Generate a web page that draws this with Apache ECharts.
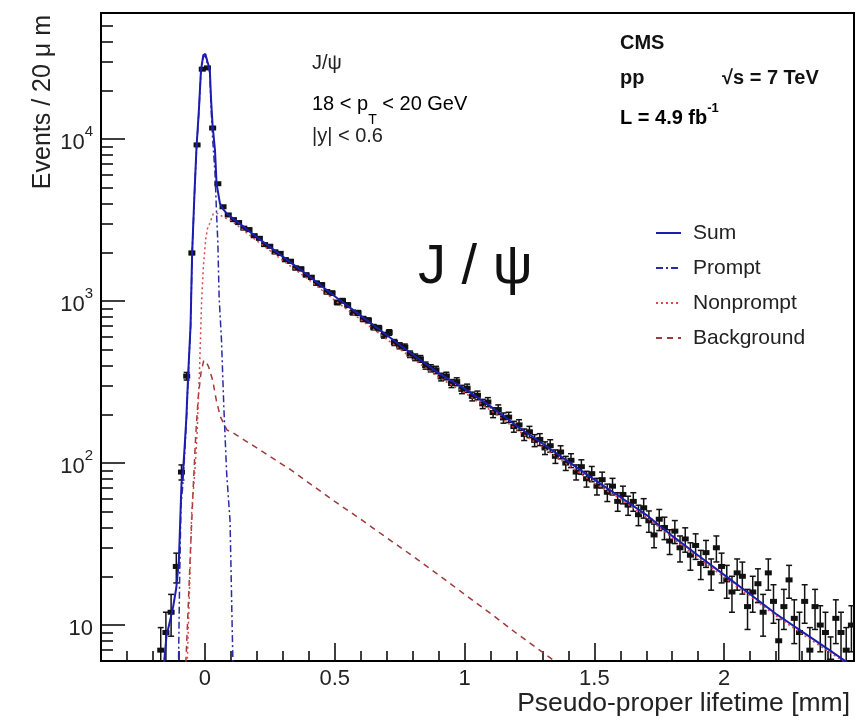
<!DOCTYPE html>
<html>
<head>
<meta charset="utf-8">
<script src="https://cdn.jsdelivr.net/npm/echarts@6/dist/echarts.min.js"></script>
<style>
html, body { margin: 0; background: #fff; }
#chart { width: 864px; height: 720px; }
</style>
</head>
<body>
<div id="chart"></div>
<script>
// data: bin centres (mm) and events per 20 um bin
const dataX = [
  -0.17, -0.15, -0.13, -0.11, -0.09, -0.07, -0.05, -0.03, -0.01, 0.01, 0.03, 0.05, 0.07, 0.09,
  0.11, 0.13, 0.15, 0.17, 0.19, 0.21, 0.23, 0.25, 0.27, 0.29,
  0.31, 0.33, 0.35, 0.37, 0.39, 0.41, 0.43, 0.45, 0.47, 0.49,
  0.51, 0.53, 0.55, 0.57, 0.59, 0.61, 0.63, 0.65, 0.67, 0.69,
  0.71, 0.73, 0.75, 0.77, 0.79, 0.81, 0.83, 0.85, 0.87, 0.89,
  0.91, 0.93, 0.95, 0.97, 0.99, 1.01, 1.03, 1.05, 1.07, 1.09,
  1.11, 1.13, 1.15, 1.17, 1.19, 1.21, 1.23, 1.25, 1.27, 1.29,
  1.31, 1.33, 1.35, 1.37, 1.39, 1.41, 1.43, 1.45, 1.47, 1.49,
  1.51, 1.53, 1.55, 1.57, 1.59, 1.61, 1.63, 1.65, 1.67, 1.69,
  1.71, 1.73, 1.75, 1.77, 1.79, 1.81, 1.83, 1.85, 1.87, 1.89,
  1.91, 1.93, 1.95, 1.97, 1.99, 2.01, 2.03, 2.05, 2.07, 2.09,
  2.11, 2.13, 2.15, 2.17, 2.19, 2.21, 2.23, 2.25, 2.27, 2.29,
  2.31, 2.33, 2.35, 2.37, 2.39, 2.41, 2.43, 2.45, 2.47, 2.49
]
const dataY = [
  7, 9, 12, 23, 88, 344, 1980, 9200, 27000, 27500, 11700, 5300, 3820, 3400,
  3180, 3050, 2820, 2760, 2530, 2440, 2230, 2180, 2010, 1970,
  1800, 1760, 1600, 1580, 1450, 1400, 1290, 1260, 1140, 1120,
  980, 1005, 945, 850, 845, 775, 760, 690, 680, 615,
  640, 555, 530, 520, 470, 450, 440, 400, 385, 376,
  340, 345, 310, 318, 285, 290, 258, 262, 232, 238,
  205, 214, 190, 192, 168, 172, 150, 156, 138, 140,
  124, 128, 110, 117, 100, 104, 88, 95, 80, 86,
  72, 79, 66, 72, 58, 64, 55, 58, 48, 53,
  44, 36, 45, 40, 33, 38, 30, 34, 27, 31,
  24, 28, 21, 30, 23, 19, 16, 21, 20, 13,
  16, 18, 12, 21, 14, 8, 13, 19, 11, 9,
  14, 7, 13, 10, 9, 6, 11, 9, 7, 10
]

// fit components
const sumX = [-0.16, -0.148, -0.135, -0.122, -0.11, -0.1, -0.09, -0.084, -0.078, -0.071, -0.064, -0.055, -0.049, -0.04, -0.032, -0.023, -0.015, -0.006, 0.002, 0.01, 0.019, 0.024, 0.03, 0.039, 0.045, 0.058, 0.07, 0.084, 0.1,
  0.2, 0.3, 0.4, 0.5, 0.6, 0.7, 0.8, 0.9, 1.0, 1.1, 1.2, 1.3, 1.4, 1.5, 1.6, 1.7, 1.8, 1.9, 2.0, 2.1, 2.2, 2.3, 2.4, 2.5]
const sumY = [5.2, 8.5, 10.5, 13, 17, 25, 75, 90, 125, 193, 360, 711, 1980, 4640, 9000, 15100, 26600, 33000, 33500, 30000, 27000, 17400, 12000, 8550, 5330, 4010, 3700, 3475, 3310,
  2480, 1880, 1430, 1070, 813, 617, 468, 359, 288, 224, 170, 132, 102, 79, 61.7, 47.9, 35.5, 26.9, 20.4, 15.5, 11.7, 9.1, 7.1, 5.5]

const promptX = [-0.102, -0.097, -0.092, -0.086, -0.078, -0.071, -0.064, -0.055, -0.049, -0.04, -0.032, -0.023, -0.015, -0.006, 0.002, 0.01, 0.019, 0.024, 0.03, 0.039, 0.045, 0.05, 0.055, 0.064, 0.073, 0.084, 0.097, 0.104, 0.109]
const promptY = [5, 20, 55, 70, 112, 185, 345, 690, 1930, 4550, 8800, 14700, 26000, 32200, 32500, 29000, 25500, 15500, 10000, 6200, 3500, 2300, 1050, 575, 223, 86, 44, 12, 5]

const nonpromptX = [-0.069, -0.064, -0.058, -0.051, -0.039, -0.03, -0.02, -0.013, -0.006, 0.003, 0.01, 0.019, 0.032, 0.045, 0.06, 0.08, 0.1,
  0.2, 0.3, 0.4, 0.5, 0.6, 0.7, 0.8, 0.9, 1.0, 1.1, 1.2, 1.3, 1.4, 1.5, 1.6, 1.7, 1.8, 1.9, 2.0, 2.1, 2.2, 2.3, 2.4, 2.5]
const nonpromptY = [5, 9.3, 19, 49, 87, 150, 400, 950, 1620, 2400, 2800, 3020, 3450, 3500, 3380, 3250, 3150,
  2355, 1782, 1354, 1012, 768, 582, 441, 339, 272, 212, 161, 125, 97, 75, 60, 46.5, 34.5, 26, 19.7, 15, 11.4, 8.8, 6.9, 5.4]

const bkgX = [-0.075, -0.065, -0.055, -0.045, -0.035, -0.025, -0.015, -0.005, 0.003, 0.015, 0.03, 0.045, 0.06, 0.085, 0.11, 0.2, 0.33, 0.4, 0.5, 0.6, 0.7, 0.8, 0.9, 1.0, 1.1, 1.2, 1.3, 1.4]
const bkgY = [5, 12, 30, 70, 150, 260, 360, 425, 430, 390, 325, 240, 193, 160, 153, 124, 91, 75.5, 58, 45, 34.6, 26.7, 20.4, 15.5, 11.8, 8.9, 6.8, 5.2]

// axis ticks
const majorX = [0, 0.5, 1, 1.5, 2]
const minorX = [-0.3, -0.2, -0.1, 0.1, 0.2, 0.3, 0.4, 0.6, 0.7, 0.8, 0.9, 1.1, 1.2, 1.3, 1.4,
  1.6, 1.7, 1.8, 1.9, 2.1, 2.2, 2.3, 2.4]
const majorY = [10, 100, 1000, 10000]
const minorY = [7, 8, 9, 20, 30, 40, 50, 60, 70, 80, 90, 200, 300, 400, 500, 600, 700, 800, 900,
  2000, 3000, 4000, 5000, 6000, 7000, 8000, 9000, 20000, 30000, 40000, 50000]

const FONT = '"Liberation Sans", Arial, Helvetica, sans-serif'
const zip = (xs, ys) => xs.map((x, i) => [x, ys[i]])

const chart = echarts.init(document.getElementById('chart'))

const option = {
  animation: false,
  backgroundColor: '#fff',
  textStyle: { fontFamily: FONT },
  grid: {
    left: 101, right: 10, top: 13, bottom: 59,
    show: true, borderColor: '#000', borderWidth: 2, backgroundColor: 'transparent'
  },
  legend: {
    data: ['Sum', 'Prompt', 'Nonprompt', 'Background'],
    orient: 'vertical',
    left: 655, top: 221, padding: 0,
    itemWidth: 25, itemHeight: 14, itemGap: 11,
    itemStyle: { opacity: 0 },
    textStyle: { fontSize: 21, lineHeight: 24, color: '#222', padding: [0, 0, 0, 7] },
  },
  xAxis: [{
    type: 'value', min: -0.4, max: 2.5,
    axisLine: { onZero: false, lineStyle: { color: '#000', width: 2 } },
    axisTick: { inside: true, length: 18, customValues: majorX, lineStyle: { color: '#000', width: 1.5 } },
    axisLabel: { customValues: majorX, fontSize: 22, color: '#222', margin: 7 },
    splitLine: { show: false },
  }, {
    type: 'value', min: -0.4, max: 2.5, position: 'bottom',
    axisLine: { show: false, onZero: false },
    axisTick: { inside: true, length: 10, customValues: minorX, lineStyle: { color: '#000', width: 1.5 } },
    axisLabel: { show: false },
    splitLine: { show: false },
  }],
  yAxis: [{
    type: 'log', logBase: 10, min: 6, max: 60000, position: 'left',
    axisLine: { show: true, onZero: false, lineStyle: { color: '#000', width: 2 } },
    axisTick: { inside: true, length: 24, customValues: majorY, lineStyle: { color: '#000', width: 1.5 } },
    axisLabel: {
      customValues: majorY,
      margin: 8,
      formatter: v => {
        const e = Math.round(Math.log10(v))
        return e === 1 ? '{b|10}' : '{b|10}{s|' + e + '}'
      },
      rich: {
        b: { fontSize: 22, color: '#222', lineHeight: 30, verticalAlign: 'bottom', fontFamily: FONT },
        s: { fontSize: 15, color: '#222', lineHeight: 15, verticalAlign: 'top', fontFamily: FONT },
      },
    },
    splitLine: { show: false },
  }, {
    type: 'log', logBase: 10, min: 6, max: 60000, position: 'left',
    axisLine: { show: false, onZero: false },
    axisTick: { inside: true, length: 12, customValues: minorY, lineStyle: { color: '#000', width: 1.5 } },
    axisLabel: { show: false },
    splitLine: { show: false },
  }],
  graphic: [
    { type: 'text', x: 43, y: 15, rotation: Math.PI / 2,
      style: { text: 'Events / 20 μ m', font: '25px ' + FONT, fill: '#222', textAlign: 'right', textVerticalAlign: 'middle' } },
    { type: 'text', x: 850, y: 704,
      style: { text: 'Pseudo-proper lifetime [mm]', font: '26.5px ' + FONT, fill: '#222', textAlign: 'right', textVerticalAlign: 'middle' } },
    { type: 'text', x: 312, y: 63,
      style: { text: 'J/ψ', font: '20px ' + FONT, fill: '#222', textVerticalAlign: 'middle' } },
    { type: 'text', x: 312, y: 94,
      style: {
        text: '{a|18 < p}{t|T}{a| < 20 GeV}', textVerticalAlign: 'top',
        rich: {
          a: { fontSize: 20, fontFamily: FONT, color: '#222', lineHeight: 20, verticalAlign: 'top' },
          t: { fontSize: 14, fontFamily: FONT, color: '#222', lineHeight: 33, verticalAlign: 'bottom' },
        }
      } },
    { type: 'text', x: 312, y: 136,
      style: { text: '|y| < 0.6', font: '20px ' + FONT, fill: '#222', textVerticalAlign: 'middle' } },
    { type: 'text', x: 620, y: 43,
      style: { text: 'CMS', font: 'bold 20px ' + FONT, fill: '#111', textVerticalAlign: 'middle' } },
    { type: 'text', x: 620, y: 78,
      style: { text: 'pp', font: 'bold 20px ' + FONT, fill: '#111', textVerticalAlign: 'middle' } },
    { type: 'text', x: 722, y: 78,
      style: { text: '√s = 7 TeV', font: 'bold 20px ' + FONT, fill: '#111', textVerticalAlign: 'middle' } },
    { type: 'text', x: 620, y: 102,
      style: {
        text: '{a|L = 4.9 fb}{s|-1}', textVerticalAlign: 'top',
        rich: {
          a: { fontSize: 20, fontWeight: 'bold', fontFamily: FONT, color: '#111', lineHeight: 26, verticalAlign: 'bottom' },
          s: { fontSize: 13, fontWeight: 'bold', fontFamily: FONT, color: '#111', lineHeight: 13, verticalAlign: 'top' },
        }
      } },
    { type: 'text', x: 418, y: 268,
      style: { text: 'J / ψ', font: '56px ' + FONT, fill: '#111', textVerticalAlign: 'middle' } },
  ],
  series: [{
    name: 'Data',
    type: 'custom',
    clip: true,
    z: 2,
    data: zip(dataX, dataY),
    renderItem(params, api) {
      const x = api.value(0)
      const y = api.value(1)
      const err = Math.sqrt(y)
      const c = api.coord([x, y])
      const hi = api.coord([x, y + err])
      const lo = api.coord([x, Math.max(y - err, 0.5)])
      const l = api.coord([x - 0.01, y])[0]
      const r = api.coord([x + 0.01, y])[0]
      const st = { stroke: '#111', lineWidth: 1.5 }
      return {
        type: 'group',
        children: [
          { type: 'line', shape: { x1: c[0], y1: hi[1], x2: c[0], y2: lo[1] }, style: st },
          { type: 'line', shape: { x1: c[0] - 3, y1: hi[1], x2: c[0] + 3, y2: hi[1] }, style: st },
          { type: 'line', shape: { x1: c[0] - 3, y1: lo[1], x2: c[0] + 3, y2: lo[1] }, style: st },
          { type: 'line', shape: { x1: l, y1: c[1], x2: r, y2: c[1] }, style: st },
          { type: 'rect', shape: { x: c[0] - 3.5, y: c[1] - 2.5, width: 7, height: 5 }, style: { fill: '#111' } },
        ]
      }
    }
  }, {
    name: 'Background',
    type: 'line', symbol: 'none', z: 3,
    data: zip(bkgX, bkgY),
    lineStyle: { color: '#a03a3a', width: 1.5, type: [6, 5] },
    itemStyle: { color: '#a03a3a' },
  }, {
    name: 'Nonprompt',
    type: 'line', symbol: 'none', z: 3,
    data: zip(nonpromptX, nonpromptY),
    lineStyle: { color: '#d84848', width: 1.5, type: [2, 3] },
    itemStyle: { color: '#d84848' },
  }, {
    name: 'Prompt',
    type: 'line', symbol: 'none', z: 3,
    data: zip(promptX, promptY),
    lineStyle: { color: '#2a2aa6', width: 1.5, type: [7, 3, 2, 3] },
    itemStyle: { color: '#2a2aa6' },
  }, {
    name: 'Sum',
    type: 'line', symbol: 'none', z: 4,
    data: zip(sumX, sumY),
    lineStyle: { color: '#1c1cb0', width: 2 },
    itemStyle: { color: '#1c1cb0' },
  }]
}

chart.setOption(option)
</script>
</body>
</html>
